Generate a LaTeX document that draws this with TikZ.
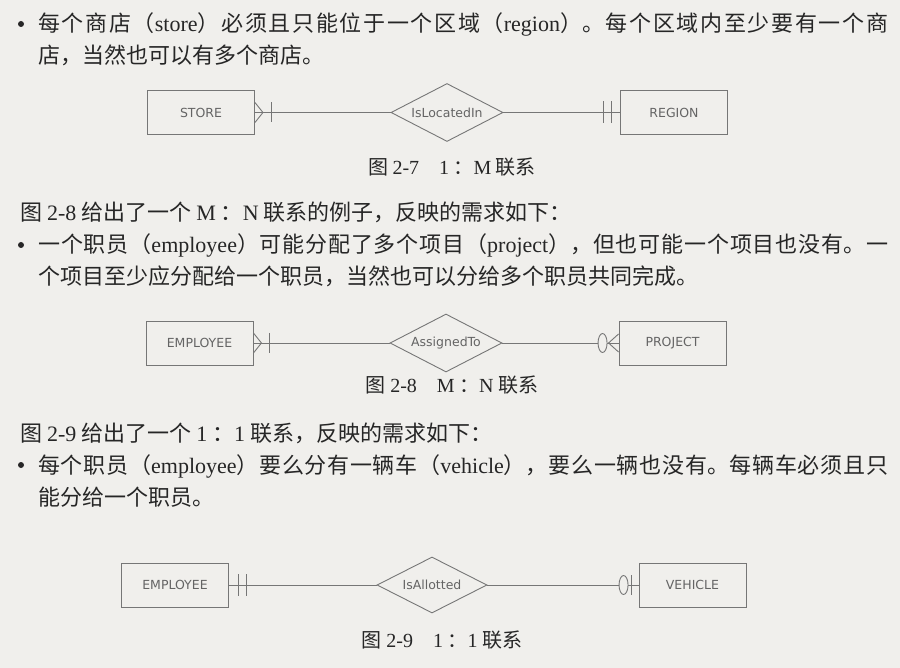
\documentclass[tikz,border=0pt]{standalone}
\usepackage{fontspec}
\setmainfont{Liberation Serif}
\newfontfamily\cjk{Noto Sans CJK SC}
\newfontfamily\diagfont{DejaVu Sans}
\usetikzlibrary{shapes.geometric,calc}
% allow stretchable breaks between Chinese characters so lines can be justified
\XeTeXlinebreaklocale "zh"
\XeTeXlinebreakskip=0pt plus 3pt minus 0.5pt

\definecolor{paper}{RGB}{240,239,236}
\definecolor{ink}{RGB}{38,38,38}
\definecolor{erline}{RGB}{118,118,118}
\definecolor{ertext}{RGB}{100,100,100}

\newcommand\lat[1]{{\rmfamily #1}}

\begin{document}
\begin{tikzpicture}[x=1pt,y=-1pt,
  body/.style={anchor=base west, inner sep=0pt, text=ink,
    font=\cjk\fontsize{22}{32}\selectfont},
  para/.style={body, text width=850pt, align=justify},
  caption/.style={anchor=base, inner sep=0pt, text=ink,
    font=\cjk\fontsize{20}{24}\selectfont},
  entity/.style={draw=erline, line width=0.9pt, minimum width=107pt,
    minimum height=44pt, inner sep=0pt, text=ertext,
    font=\diagfont\fontsize{12.5}{14}\selectfont},
  rel/.style={diamond, draw=erline, line width=0.9pt, aspect=2,
    minimum width=112pt, minimum height=58pt, inner sep=0pt, text=ertext,
    font=\diagfont\fontsize{12.5}{14}\selectfont},
  link/.style={draw=erline, line width=0.9pt},
  zeromark/.style={draw=erline, fill=paper, line width=0.9pt},
  bulletdot/.style={circle, fill=ink, inner sep=0pt, minimum size=6pt}
]
% page
\fill[paper] (0,0) rectangle (900,668);
\useasboundingbox (0,0) rectangle (900,668);

% ---------- first requirement ----------
\node[bulletdot] (b1) at (21,24) {};
\node[para] (p1) at (38,32) {每个商店（\lat{store}）必须且只能位于一个区域（\lat{region}）。每个区域内至少要有一个商\linebreak 店，当然也可以有多个商店。};

% 1 : M diagram
\node[entity] (store) at (201,112.5) {STORE};
\node[rel] (locin) at (447,112.5) {IsLocatedIn};
\node[entity] (region) at (674,112.5) {REGION};
\draw[link] (store.east) -- (locin.west);
\draw[link] (locin.east) -- (region.west);
% one or many at STORE
\draw[link] ($(store.east)+(0,-10)$) -- ($(store.east)+(8,0)$) -- ($(store.east)+(0,10)$);
\draw[link] ($(store.east)+(16,-10)$) -- ($(store.east)+(16,10)$);
% one and only one at REGION
\draw[link] ($(region.west)+(-17,-11)$) -- ($(region.west)+(-17,11)$);
\draw[link] ($(region.west)+(-9,-11)$) -- ($(region.west)+(-9,11)$);

\node[caption] (c1) at (452,175) {图 \lat{2-7}\quad\lat{1} ：\lat{M} 联系};

% ---------- second requirement ----------
\node[body] (p2) at (20,221) {图 \lat{2-8} 给出了一个 \lat{M} ：\lat{N} 联系的例子，反映的需求如下：};
\node[bulletdot] (b2) at (21,245) {};
\node[para] (p3) at (38,253) {一个职员（\lat{employee}）可能分配了多个项目（\lat{project}），但也可能一个项目也没有。一\linebreak 个项目至少应分配给一个职员，当然也可以分给多个职员共同完成。};

% M : N diagram
\node[entity] (emp1) at (199.5,343) {EMPLOYEE};
\node[rel] (assign) at (446,343) {AssignedTo};
\node[entity] (proj) at (672.5,343) {PROJECT};
\draw[link] (emp1.east) -- (assign.west);
\draw[link] (assign.east) -- (proj.west);
% one or many at EMPLOYEE
\draw[link] ($(emp1.east)+(0,-10)$) -- ($(emp1.east)+(8,0)$) -- ($(emp1.east)+(0,10)$);
\draw[link] ($(emp1.east)+(16,-10)$) -- ($(emp1.east)+(16,10)$);
% zero or many at PROJECT
\draw[link] ($(proj.west)+(0,-9)$) -- ($(proj.west)+(-10,0)$) -- ($(proj.west)+(0,9)$);
\draw[zeromark] ($(proj.west)+(-16,0)$) ellipse [x radius=4.5pt, y radius=9.5pt];

\node[caption] (c2) at (452,392) {图 \lat{2-8}\quad\lat{M} ：\lat{N} 联系};

% ---------- third requirement ----------
\node[body] (p4) at (20,441) {图 \lat{2-9} 给出了一个 \lat{1} ：\lat{1} 联系，反映的需求如下：};
\node[bulletdot] (b3) at (21,465) {};
\node[para] (p5) at (38,473) {每个职员（\lat{employee}）要么分有一辆车（\lat{vehicle}），要么一辆也没有。每辆车必须且只\linebreak 能分给一个职员。};

% 1 : 1 diagram
\node[entity] (emp2) at (175,585) {EMPLOYEE};
\node[rel, minimum width=110pt, minimum height=56pt] (allot) at (432,585) {IsAllotted};
\node[entity] (vehicle) at (692.5,585) {VEHICLE};
\draw[link] (emp2.east) -- (allot.west);
\draw[link] (allot.east) -- (vehicle.west);
% one and only one at EMPLOYEE
\draw[link] ($(emp2.east)+(9,-11)$) -- ($(emp2.east)+(9,11)$);
\draw[link] ($(emp2.east)+(17,-11)$) -- ($(emp2.east)+(17,11)$);
% zero or one at VEHICLE
\draw[link] ($(vehicle.west)+(-7,-10)$) -- ($(vehicle.west)+(-7,10)$);
\draw[zeromark] ($(vehicle.west)+(-15,0)$) ellipse [x radius=4.5pt, y radius=9.5pt];

\node[caption] (c3) at (442,647) {图 \lat{2-9}\quad\lat{1} ：\lat{1} 联系};
\end{tikzpicture}
\end{document}
